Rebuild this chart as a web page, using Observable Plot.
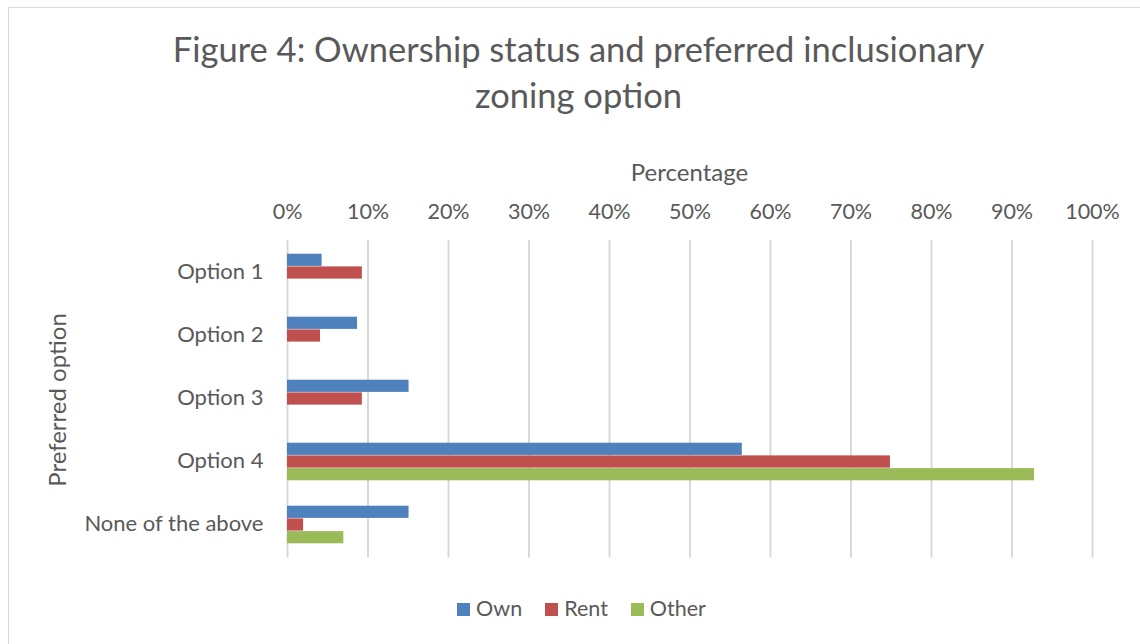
<!DOCTYPE html>
<html>
<head>
<meta charset="utf-8">
<script src="https://cdn.jsdelivr.net/npm/d3@7"></script>
<script src="https://cdn.jsdelivr.net/npm/@observablehq/plot@0.6"></script>
<style>
  html, body { margin: 0; padding: 0; background: #fff; }
  #wrap { position: relative; width: 1140px; height: 644px; overflow: hidden; font-family: Lato, "Open Sans", sans-serif; color: #595959; }
  #frame { position: absolute; left: 8px; top: 7px; width: 1200px; height: 700px; border: 1.5px solid #d9d9d9; box-sizing: border-box; }
  #chart { position: absolute; left: 0; top: 0; }
  #title { position: absolute; left: 0; width: 1157px; top: 26px; text-align: center; font-size: 34.5px; line-height: 46px; }
  #xlabel { position: absolute; left: 287px; width: 805px; top: 158px; text-align: center; font-size: 24px; line-height: 1.2; }
  #ylabel { position: absolute; left: 57px; top: 400px; transform: translate(-50%, -50%) rotate(-90deg); font-size: 24px; line-height: 1.2; white-space: nowrap; }
  #legend { position: absolute; left: 0; width: 1163px; top: 595.5px; text-align: center; font-size: 21.5px; line-height: 1.2; }
  #legend span.item { display: inline-block; margin: 0 11.5px; }
  #legend span.sw { display: inline-block; width: 13px; height: 13px; margin-right: 6px; vertical-align: 0px; }
</style>
</head>
<body>
<div id="wrap">
  <div id="frame"></div>
  <div id="chart"></div>
  <div id="title">Figure 4: Ownership status and preferred inclusionary<br>zoning option</div>
  <div id="xlabel">Percentage</div>
  <div id="ylabel">Preferred option</div>
  <div id="legend"></div>
</div>
<script>
const categories = ["Option 1", "Option 2", "Option 3", "Option 4", "None of the above"];
const series = ["Own", "Rent", "Other"];
const colors = ["#4F81BD", "#C0504D", "#9BBB59"];
const own   = [4.3, 8.7, 15.1, 56.5, 15.1];
const rent  = [9.3, 4.1, 9.3, 74.9, 2.0];
const other = [null, null, null, 92.8, 7.0];
const xTicks = [0, 10, 20, 30, 40, 50, 60, 70, 80, 90, 100];

const values = [own, rent, other];
const data = [];
series.forEach((s, si) => categories.forEach((c, ci) => {
  if (values[si][ci] != null) data.push({category: c, series: s, value: values[si][ci]});
}));

const W = 1140, H = 644;
const mTop = 240, mBottom = 86.5, mLeft = 287, mRight = 48;
const band = (H - mTop - mBottom) / categories.length;
const barH = band * 0.2;
const offset = band * 0.2;

const barMarks = series.map((s, si) => Plot.barX(data.filter(d => d.series === s), {
  x: "value", y: "category", fill: colors[si],
  insetTop: offset + si * barH,
  insetBottom: band - offset - (si + 1) * barH
}));

const chart = Plot.plot({
  width: W, height: H,
  marginTop: mTop, marginBottom: mBottom, marginLeft: mLeft, marginRight: mRight,
  style: {fontFamily: "Lato, 'Open Sans', sans-serif", fontSize: "21px", color: "#595959", background: "transparent"},
  x: {domain: [0, 100], ticks: xTicks, tickFormat: d => d + "%"},
  y: {domain: categories, padding: 0},
  marks: [
    Plot.ruleX(xTicks, {stroke: "#d9d9d9", strokeWidth: 2}),
    ...barMarks,
    Plot.axisX({anchor: "top", ticks: xTicks, tickFormat: d => d + "%", tickSize: 0, tickPadding: 22, label: null, fill: "#595959", fontSize: 21.5}),
    Plot.axisY({tickSize: 0, tickPadding: 24, label: null, fill: "#595959", fontSize: 22, dy: -1})
  ]
});
document.getElementById("chart").appendChild(chart);

const legend = document.getElementById("legend");
series.forEach((s, i) => {
  const item = document.createElement("span");
  item.className = "item";
  item.innerHTML = `<span class="sw" style="background:${colors[i]}"></span>${s}`;
  legend.appendChild(item);
});
</script>
</body>
</html>
